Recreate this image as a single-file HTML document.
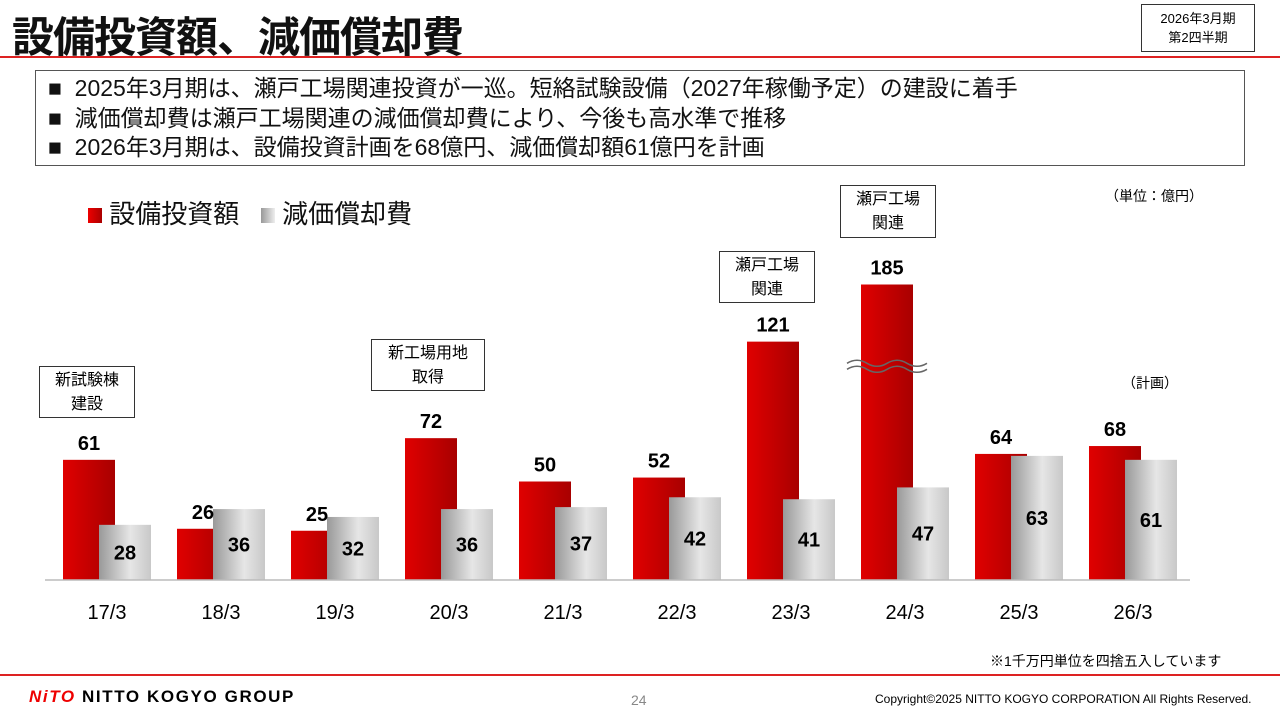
<!DOCTYPE html>
<html><head><meta charset="utf-8"><style>
body{margin:0;width:1280px;height:720px;background:#fff;overflow:hidden;font-family:"Liberation Sans","Noto Sans CJK JP",sans-serif;position:relative}
.a{position:absolute}
</style></head><body>
<div class="a" style="left:12px;top:4px;font-size:42px;font-weight:bold;letter-spacing:-1px;color:#111">設備投資額、減価償却費</div>
<div class="a" style="left:0;top:56px;width:1280px;height:2px;background:#d22"></div>
<div class="a" style="left:1141px;top:4px;width:114px;height:48px;border:1px solid #333;font-size:13px;text-align:center;line-height:19px;box-sizing:border-box;padding-top:4px">2026年3月期<br>第2四半期</div>
<div class="a" style="left:35px;top:70px;width:1210px;height:96px;border:1px solid #555;box-sizing:border-box;padding:3px 0 0 12px;font-size:23px;line-height:29.5px;color:#111;letter-spacing:0;white-space:nowrap">
<div>■&nbsp; 2025年3月期は、瀬戸工場関連投資が一巡。短絡試験設備（2027年稼働予定）の建設に着手</div>
<div>■&nbsp; 減価償却費は瀬戸工場関連の減価償却費により、今後も高水準で推移</div>
<div>■&nbsp; 2026年3月期は、設備投資計画を68億円、減価償却額61億円を計画</div></div>
<div class="a" style="left:88px;top:194px;font-size:26px;color:#111;white-space:nowrap">
<span style="display:inline-block;width:14px;height:15px;background:linear-gradient(90deg,#e00,#a00)"></span> 設備投資額 &nbsp; <span style="display:inline-block;width:14px;height:15px;background:linear-gradient(90deg,#999,#eee)"></span> 減価償却費</div>
<div class="a" style="left:1105px;top:186px;font-size:14px">（単位：億円）</div>
<div class="a" style="left:1122px;top:373px;font-size:14px">（計画）</div>
<svg class="a" style="left:0;top:0" width="1280" height="720" id="chart">
<defs>
<linearGradient id="gr" x1="0" x2="1"><stop offset="0" stop-color="#e00000"/><stop offset="1" stop-color="#a80000"/></linearGradient>
<linearGradient id="gg" x1="0" x2="1"><stop offset="0" stop-color="#999"/><stop offset="0.6" stop-color="#e6e6e6"/><stop offset="1" stop-color="#c8c8c8"/></linearGradient>
</defs></svg>
<div class="a" style="left:39px;top:366px;width:96px;height:52px;border:1px solid #333;font-size:16px;text-align:center;line-height:24px;box-sizing:border-box;padding-top:2px;background:#fff">新試験棟<br>建設</div>
<div class="a" style="left:371px;top:339px;width:114px;height:52px;border:1px solid #333;font-size:16px;text-align:center;line-height:24px;box-sizing:border-box;padding-top:2px;background:#fff">新工場用地<br>取得</div>
<div class="a" style="left:719px;top:251px;width:96px;height:52px;border:1px solid #333;font-size:16px;text-align:center;line-height:24px;box-sizing:border-box;padding-top:2px;background:#fff">瀬戸工場<br>関連</div>
<div class="a" style="left:840px;top:185px;width:96px;height:53px;border:1px solid #333;font-size:16px;text-align:center;line-height:24px;box-sizing:border-box;padding-top:2px;background:#fff">瀬戸工場<br>関連</div>
<div class="a" style="left:990px;top:651px;font-size:14px">※1千万円単位を四捨五入しています</div>
<div class="a" style="left:0;top:674px;width:1280px;height:2px;background:#d22"></div>
<div class="a" style="left:29px;top:687px;font-size:17px;font-weight:bold;letter-spacing:1.6px;white-space:nowrap"><span style="color:#e00;font-style:italic">NiTO</span> NITTO KOGYO GROUP</div>
<div class="a" style="left:631px;top:692px;font-size:14px;color:#888">24</div>
<div class="a" style="left:875px;top:692px;font-size:12px">Copyright©2025 NITTO KOGYO CORPORATION All Rights Reserved.</div>
<script>
const categories=["17/3","18/3","19/3","20/3","21/3","22/3","23/3","24/3","25/3","26/3"];
const capex=[61,26,25,72,50,52,121,185,64,68];
const depreciation=[28,36,32,36,37,42,41,47,63,61];
const cap=150;
const svg=document.getElementById('chart');const NS="http://www.w3.org/2000/svg";
const base=580,scale=1.97,x0=63,step=114,bw=52,goff=36;
const y=v=>base-Math.min(v,cap)*scale;
function mk(t,a){const e=document.createElementNS(NS,t);for(const k in a)e.setAttribute(k,a[k]);svg.appendChild(e);return e;}
categories.forEach((c,i)=>{
 const xr=x0+i*step,xg=xr+goff;
 const r=mk('rect',{x:xr,y:y(capex[i]),width:bw,height:base-y(capex[i]),fill:'url(#gr)'});
 
 
 const g=mk('rect',{x:xg,y:y(depreciation[i]),width:bw,height:base-y(depreciation[i]),fill:'url(#gg)'});
 
 
 const t1=mk('text',{x:xr+bw/2,y:y(capex[i])-10,'text-anchor':'middle','font-size':20,'font-weight':'bold','font-family':'Liberation Sans'});
 t1.textContent=capex[i];
 
 
 const t2=mk('text',{x:xg+bw/2,y:(y(depreciation[i])+base)/2+7,'text-anchor':'middle','font-size':20,'font-weight':'bold','font-family':'Liberation Sans'});
 t2.textContent=depreciation[i];
 
 
 const t3=mk('text',{x:xr+44,y:619,'text-anchor':'middle','font-size':20,'font-family':'Liberation Sans'});
 t3.textContent=c;
 
 
 if(capex[i]>cap){const xm=xr-14,ym=base-110*scale;
  for(const d of[0,6]){const p=mk('path',{d:`M${xm} ${ym+d} q10 -6 20 0 t20 0 t20 0 t20 0`,fill:'none',stroke:'#666','stroke-width':1.5});
  
  }}
});
const ax=mk('line',{x1:45,x2:1190,y1:base,y2:base,stroke:'#bbb','stroke-width':1.5});


</script>
</body></html>
